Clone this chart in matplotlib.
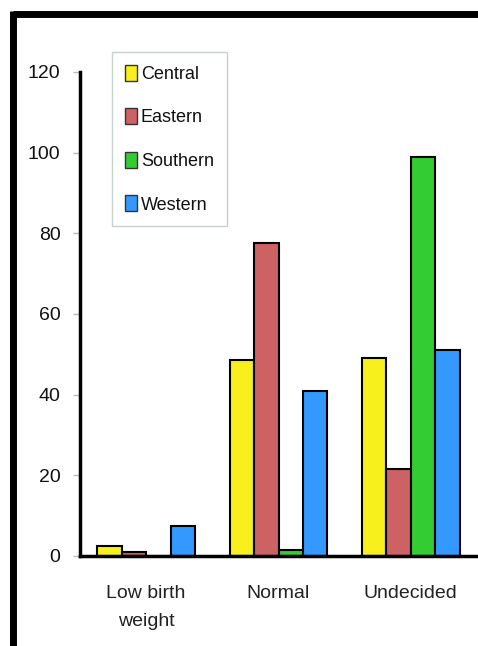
import matplotlib
matplotlib.use("Agg")
import matplotlib.pyplot as plt
import numpy as np
from matplotlib.lines import Line2D
from matplotlib.patches import Patch

plt.rcParams['font.family'] = ['Liberation Sans', 'DejaVu Sans']

# data
categories = ["Low birth\nweight", "Normal", "Undecided"]
regions = ["Central", "Eastern", "Southern", "Western"]
central = [2.5, 48.5, 49]
eastern = [1.0, 77.5, 21.5]
southern = [0, 1.5, 99]
western = [7.5, 41, 51]
yticks = [0, 20, 40, 60, 80, 100, 120]

colors = ["#f7f01c", "#cc6264", "#33cc33", "#3399ff"]

fig = plt.figure(figsize=(4.78, 6.46), dpi=100)
ax = fig.add_axes([80 / 478, 1 - 556 / 646, 397 / 478, 484 / 646])

x = np.arange(len(categories))
w = 0.185
series = [central, eastern, southern, western]
for i, (vals, c) in enumerate(zip(series, colors)):
    pos = x - 2 * w + i * w + w / 2
    ax.bar(pos, vals, width=w, color=c, edgecolor="black", linewidth=1.5, label=regions[i])

ax.set_xlim(-0.5, 2.5)
ax.set_ylim(0, 120)
ax.set_yticks(yticks)
ax.set_xticks(x)
ax.set_xticklabels(categories, fontsize=14, color="#222222", linespacing=1.85)
ax.tick_params(axis="y", labelsize=14, labelcolor="#111111", length=5, width=1, color="#bbbbbb", pad=9)
ax.tick_params(axis="x", length=0, pad=21)
for s in ["top", "right"]:
    ax.spines[s].set_visible(False)
ax.spines["left"].set_linewidth(2.5)
ax.spines["bottom"].set_linewidth(2.5)

# legend
handles = [Patch(facecolor=c, edgecolor="#333333", linewidth=1) for c in colors]
leg = fig.legend(handles, regions, loc="upper left", bbox_to_anchor=(112 / 478, 1 - 52 / 646),
                 fontsize=13, frameon=True, fancybox=False, handlelength=0.7, handleheight=1.0,
                 handletextpad=0.2, labelspacing=1.4, borderpad=0.7, borderaxespad=0)
for t in leg.get_texts():
    t.set_color("#111111")
leg.get_frame().set_edgecolor("#b8c8c0")
leg.get_frame().set_linewidth(1)

# black frame on top and left of the image
fig.add_artist(Line2D([13 / 478, 1], [1 - 14 / 646, 1 - 14 / 646], color="black", linewidth=5,
                      transform=fig.transFigure, solid_capstyle="butt"))
fig.add_artist(Line2D([13 / 478, 13 / 478], [1 - 11 / 646, 0], color="black", linewidth=5,
                      transform=fig.transFigure, solid_capstyle="butt"))

fig.savefig("out.png", dpi=100)
